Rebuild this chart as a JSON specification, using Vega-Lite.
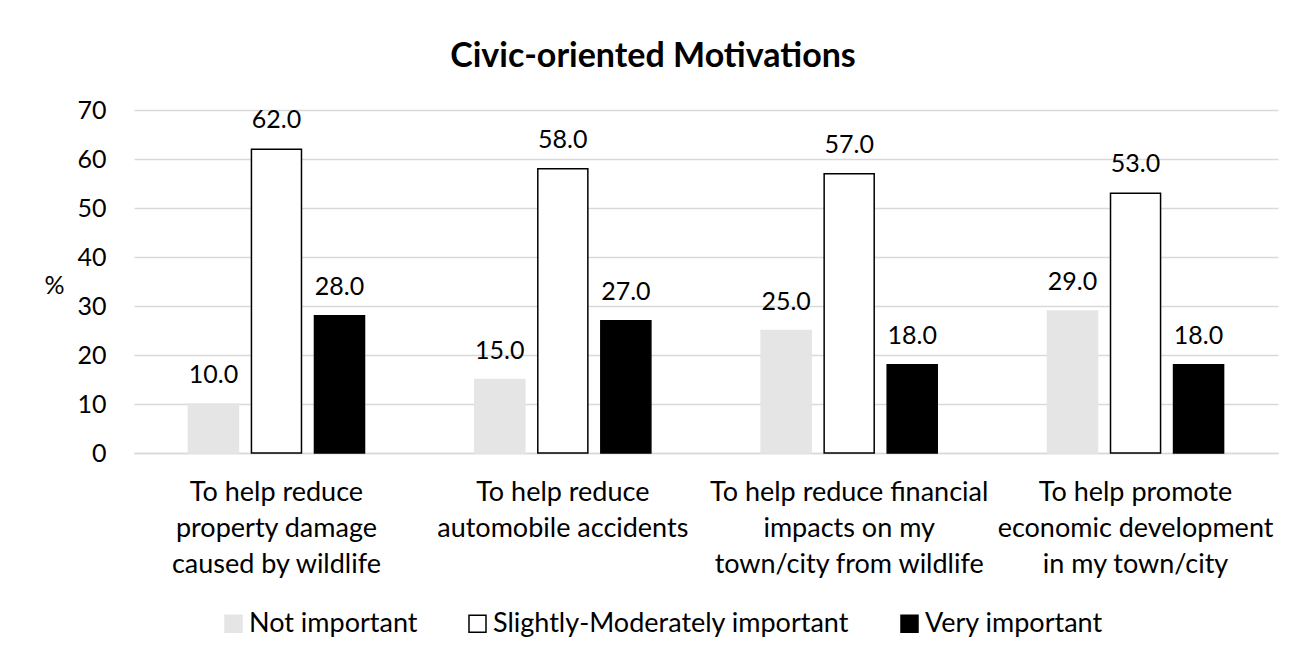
{
  "$schema": "https://vega.github.io/schema/vega-lite/v6.json",
  "autosize": {"type": "none"},
  "padding": {"left": 134, "top": 110, "right": 29, "bottom": 208},
  "width": 1144,
  "height": 343,
  "background": "white",
  "title": {
    "text": "Civic-oriented Motivations",
    "font": "Lato",
    "fontSize": 34,
    "fontWeight": "bold",
    "color": "#000000",
    "anchor": "middle",
    "dx": -53,
    "offset": 24
  },
  "data": {
    "values": [
      {"cat": "To help reduce|property damage|caused by wildlife", "imp": "Not important", "v": 10},
      {"cat": "To help reduce|property damage|caused by wildlife", "imp": "Slightly-Moderately important", "v": 62},
      {"cat": "To help reduce|property damage|caused by wildlife", "imp": "Very important", "v": 28},
      {"cat": "To help reduce|automobile accidents", "imp": "Not important", "v": 15},
      {"cat": "To help reduce|automobile accidents", "imp": "Slightly-Moderately important", "v": 58},
      {"cat": "To help reduce|automobile accidents", "imp": "Very important", "v": 27},
      {"cat": "To help reduce financial|impacts on my|town/city from wildlife", "imp": "Not important", "v": 25},
      {"cat": "To help reduce financial|impacts on my|town/city from wildlife", "imp": "Slightly-Moderately important", "v": 57},
      {"cat": "To help reduce financial|impacts on my|town/city from wildlife", "imp": "Very important", "v": 18},
      {"cat": "To help promote|economic development|in my town/city", "imp": "Not important", "v": 29},
      {"cat": "To help promote|economic development|in my town/city", "imp": "Slightly-Moderately important", "v": 53},
      {"cat": "To help promote|economic development|in my town/city", "imp": "Very important", "v": 18}
    ]
  },
  "encoding": {
    "x": {
      "field": "cat",
      "type": "nominal",
      "sort": null,
      "scale": {"paddingInner": 0.385, "paddingOuter": 0.19},
      "axis": {
        "title": null,
        "labelAngle": 0,
        "labelExpr": "split(datum.label, '|')",
        "labelFont": "Lato",
        "labelFontSize": 27,
        "labelColor": "#000000",
        "labelLineHeight": 36,
        "labelPadding": 26,
        "labelBaseline": "top",
        "ticks": false,
        "domainColor": "#D9D9D9",
        "domainWidth": 1.5,
        "labelLimit": 400
      }
    },
    "xOffset": {
      "field": "imp",
      "type": "nominal",
      "sort": ["Not important", "Slightly-Moderately important", "Very important"],
      "scale": {"paddingInner": 0.206, "paddingOuter": 0}
    },
    "y": {
      "field": "v",
      "type": "quantitative",
      "scale": {"domain": [0, 70]},
      "axis": {
        "title": "%",
        "titleAngle": 0,
        "titleFont": "Lato",
        "titleFontSize": 25,
        "titleFontWeight": "normal",
        "titleColor": "#000000",
        "titleX": -80,
        "titleY": 175,
        "titleAlign": "center",
        "titleBaseline": "middle",
        "values": [0, 10, 20, 30, 40, 50, 60, 70],
        "labelFont": "Lato",
        "labelFontSize": 25,
        "labelColor": "#000000",
        "labelPadding": 28,
        "ticks": false,
        "domain": false,
        "grid": true,
        "gridColor": "#D9D9D9",
        "gridWidth": 1.5
      }
    }
  },
  "layer": [
    {
      "mark": {"type": "bar", "strokeWidth": 1.5},
      "encoding": {
        "fill": {
          "field": "imp",
          "type": "nominal",
          "sort": ["Not important", "Slightly-Moderately important", "Very important"],
          "scale": {"domain": ["Not important", "Slightly-Moderately important", "Very important"], "range": ["#E5E5E5", "#FFFFFF", "#000000"]},
          "legend": {
            "title": null,
            "orient": "none",
            "legendX": 86,
            "legendY": 500,
            "direction": "horizontal",
            "symbolType": "square",
            "symbolSize": 289,
            "symbolStrokeWidth": 1.5,
            "labelFont": "Lato",
            "labelFontSize": 27,
            "labelColor": "#000000",
            "labelOffset": 2,
            "columnPadding": 46,
            "labelLimit": 500
          }
        },
        "stroke": {
          "field": "imp",
          "type": "nominal",
          "sort": ["Not important", "Slightly-Moderately important", "Very important"],
          "scale": {"domain": ["Not important", "Slightly-Moderately important", "Very important"], "range": ["#E5E5E5", "#000000", "#000000"]},
          "legend": {
            "title": null,
            "orient": "none",
            "legendX": 86,
            "legendY": 500,
            "direction": "horizontal",
            "symbolType": "square",
            "symbolSize": 289,
            "symbolStrokeWidth": 1.5,
            "labelFont": "Lato",
            "labelFontSize": 27,
            "labelColor": "#000000",
            "labelOffset": 2,
            "columnPadding": 46,
            "labelLimit": 500
          }
        }
      }
    },
    {
      "mark": {"type": "text", "font": "Lato", "fontSize": 25, "color": "#000000", "baseline": "alphabetic", "dy": -21},
      "encoding": {
        "text": {"field": "v", "type": "quantitative", "format": ".1f"}
      }
    }
  ],
  "config": {
    "view": {"stroke": null}
  }
}
